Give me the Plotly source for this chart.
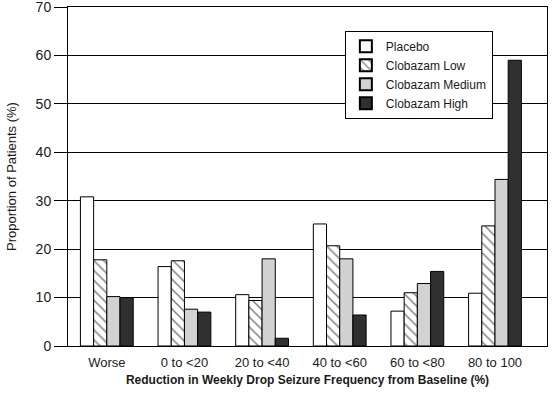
import plotly.graph_objects as go

categories = ["Worse", "0 to <20", "20 to <40", "40 to <60", "60 to <80", "80 to 100"]
placebo = [30.8, 16.4, 10.6, 25.2, 7.2, 10.9]
clob_low = [17.8, 17.6, 9.4, 20.7, 11.0, 24.8]
clob_med = [10.2, 7.6, 18.0, 18.0, 12.9, 34.4]
clob_high = [10.0, 7.0, 1.6, 6.4, 15.4, 59.0]
y_ticks = [0, 10, 20, 30, 40, 50, 60, 70]

FONT = "Liberation Sans Narrow, Arial Narrow, Liberation Sans, Arial, sans-serif"

fig = go.Figure()
line = dict(color="black", width=1)
fig.add_trace(go.Bar(name="Placebo", x=categories, y=placebo,
                     marker=dict(color="white", line=line)))
fig.add_trace(go.Bar(name="Clobazam Low", x=categories, y=clob_low,
                     marker=dict(color="white", line=line,
                                 pattern=dict(shape="\\", fgcolor="black", bgcolor="white",
                                              size=7, solidity=0.22, fillmode="overlay"))))
fig.add_trace(go.Bar(name="Clobazam Medium", x=categories, y=clob_med,
                     marker=dict(color="#d2d2d4", line=line)))
fig.add_trace(go.Bar(name="Clobazam High", x=categories, y=clob_high,
                     marker=dict(color="#303030", line=line)))

fig.update_layout(
    width=552, height=398,
    margin=dict(l=68, r=5, t=7, b=52),
    paper_bgcolor="white", plot_bgcolor="white",
    barmode="group", bargap=0.32, bargroupgap=0,
    font=dict(family=FONT, size=13, color="#1a1a1a"),
    showlegend=True,
    legend=dict(x=0.578, y=0.93, xanchor="left", yanchor="top",
                bgcolor="white", bordercolor="black", borderwidth=1,
                font=dict(size=12), tracegroupgap=0, itemsizing="constant", itemwidth=30),
    xaxis=dict(range=[-0.5, 5.67], showline=True, linecolor="black", linewidth=1,
               ticks="", showgrid=False, mirror=True, automargin=False,
               ticklabelstandoff=4,
               title=dict(text="<b>Reduction in Weekly Drop Seizure Frequency from Baseline (%)</b>",
                          font=dict(size=12), standoff=7),
               tickfont=dict(size=13)),
    yaxis=dict(range=[0, 70], tickvals=y_ticks, showline=True, linecolor="black", linewidth=1,
               mirror=True, ticks="outside", ticklen=13, tickcolor="black",
               showgrid=True, gridcolor="black", gridwidth=1, zeroline=False, automargin=False,
               ticklabeloverflow="allow",
               title=dict(text="Proportion of Patients (%)", font=dict(size=13), standoff=16),
               tickfont=dict(size=14)),
)

fig.write_html("out.html", config={"displayModeBar": False},
               post_script="document.body.style.margin='0';")
